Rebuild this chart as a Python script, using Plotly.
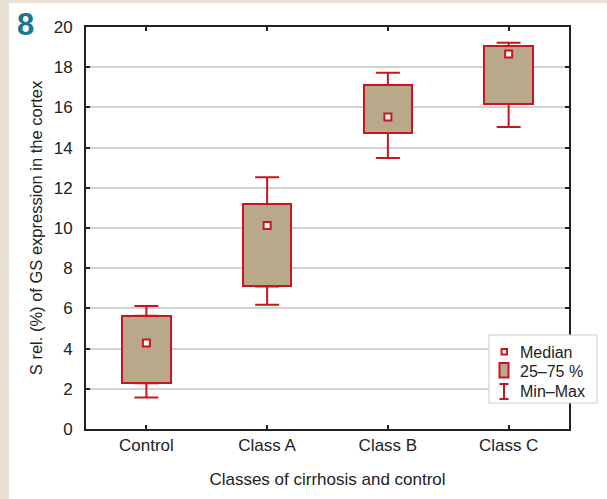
import plotly.graph_objects as go

# Glutamine synthetase expression per group
categories = ["Control", "Class A", "Class B", "Class C"]
q_min = [1.57, 6.18, 13.48, 15.03]
q1 = [2.28, 7.09, 14.73, 16.17]
median = [4.28, 10.12, 15.52, 18.66]
q3 = [5.63, 11.20, 17.11, 19.06]
q_max = [6.12, 12.53, 17.73, 19.22]
y_ticks = list(range(0, 21, 2))

RED = "#c8161e"
FILL = "#b9a98a"
BEIGE = "#e9e1d6"
FONT = "Liberation Sans, Arial, sans-serif"

W, H = 607, 499
ML, MR, MT, MB = 86, 38, 27, 70
PW, PH = W - ML - MR, H - MT - MB


def px(x):
    return (x - ML) / PW


def py(y):
    return (H - MB - y) / PH


fig = go.Figure()

# 25-75 % boxes
fig.add_trace(go.Bar(
    x=categories,
    y=[b - a for a, b in zip(q1, q3)],
    base=q1,
    width=0.4,
    marker=dict(color=FILL, line=dict(color=RED, width=2)),
    showlegend=False,
    hoverinfo="skip",
))

# whiskers: q3 -> max and q1 -> min
fig.add_trace(go.Scatter(
    x=categories, y=q3, mode="markers",
    marker=dict(size=1, color="rgba(0,0,0,0)"),
    error_y=dict(type="data", symmetric=False,
                 array=[b - a for a, b in zip(q3, q_max)],
                 arrayminus=[0] * len(q3),
                 color=RED, thickness=2, width=12),
    showlegend=False, hoverinfo="skip",
))
fig.add_trace(go.Scatter(
    x=categories, y=q1, mode="markers",
    marker=dict(size=1, color="rgba(0,0,0,0)"),
    error_y=dict(type="data", symmetric=False,
                 array=[0] * len(q1),
                 arrayminus=[a - b for a, b in zip(q1, q_min)],
                 color=RED, thickness=2, width=12),
    showlegend=False, hoverinfo="skip",
))

# medians
fig.add_trace(go.Scatter(
    x=categories, y=median, mode="markers",
    marker=dict(symbol="square", size=7, color="white",
                line=dict(color=RED, width=2)),
    showlegend=False,
))

shapes = [
    # white panel over the beige page
    dict(type="rect", xref="paper", yref="paper", layer="below",
         x0=px(9), x1=px(W + 2), y0=py(3), y1=py(H + 2),
         fillcolor="white", line=dict(width=0)),
    # key frame
    dict(type="rect", xref="paper", yref="paper", layer="above",
         x0=px(489), x1=px(597), y0=py(335), y1=py(403),
         fillcolor="white", line=dict(color="#cccccc", width=1)),
    # key: median symbol
    dict(type="rect", xref="paper", yref="paper", layer="above",
         x0=px(501.5), x1=px(507), y0=py(349), y1=py(354.5),
         fillcolor="white", line=dict(color=RED, width=2)),
    # key: box symbol
    dict(type="rect", xref="paper", yref="paper", layer="above",
         x0=px(499.5), x1=px(508.5), y0=py(363), y1=py(377.5),
         fillcolor=FILL, line=dict(color=RED, width=2)),
    # key: whisker symbol
    dict(type="line", xref="paper", yref="paper", layer="above",
         x0=px(504), x1=px(504), y0=py(384), y1=py(399),
         line=dict(color=RED, width=2)),
    dict(type="line", xref="paper", yref="paper", layer="above",
         x0=px(499.5), x1=px(508.5), y0=py(384), y1=py(384),
         line=dict(color=RED, width=2)),
    dict(type="line", xref="paper", yref="paper", layer="above",
         x0=px(499.5), x1=px(508.5), y0=py(399), y1=py(399),
         line=dict(color=RED, width=2)),
]

key_labels = [("Median", 352), ("25\u201375 %", 371), ("Min\u2013Max", 391)]
annotations = [
    dict(text=t, xref="paper", yref="paper", x=px(518), y=py(yy),
         xanchor="left", yanchor="middle", showarrow=False,
         font=dict(family=FONT, size=16, color="#222"))
    for t, yy in key_labels
]
annotations.append(dict(
    text="<b>8</b>", xref="paper", yref="paper", x=px(25), y=py(24),
    xanchor="center", yanchor="middle", showarrow=False,
    font=dict(family=FONT, size=31, color="#177891"),
))

fig.update_layout(
    width=W, height=H,
    margin=dict(l=ML, r=MR, t=MT, b=MB),
    paper_bgcolor=BEIGE,
    plot_bgcolor="white",
    font=dict(family=FONT, size=17, color="#222"),
    shapes=shapes,
    annotations=annotations,
    bargap=0,
)

fig.update_xaxes(
    range=[-0.5, 3.5],
    showline=True, linecolor="#222", linewidth=2, mirror="ticks",
    ticks="inside", ticklen=4, tickwidth=2, tickcolor="#222",
    showgrid=False,
    ticklabelstandoff=0,
    title=dict(text="Classes of cirrhosis and control",
               font=dict(size=17), standoff=19),
)
fig.update_yaxes(
    range=[0, 20],
    tickvals=y_ticks,
    showline=True, linecolor="#222", linewidth=2, mirror="ticks",
    ticks="inside", ticklen=4, tickwidth=2, tickcolor="#222",
    showgrid=True, gridcolor="#d2d2d2", gridwidth=1.5,
    zeroline=False,
    ticklabelstandoff=8,
    title=dict(text="S rel. (%) of GS expression in the cortex",
               font=dict(size=16.5), standoff=7),
)

fig.write_html("out.html")
